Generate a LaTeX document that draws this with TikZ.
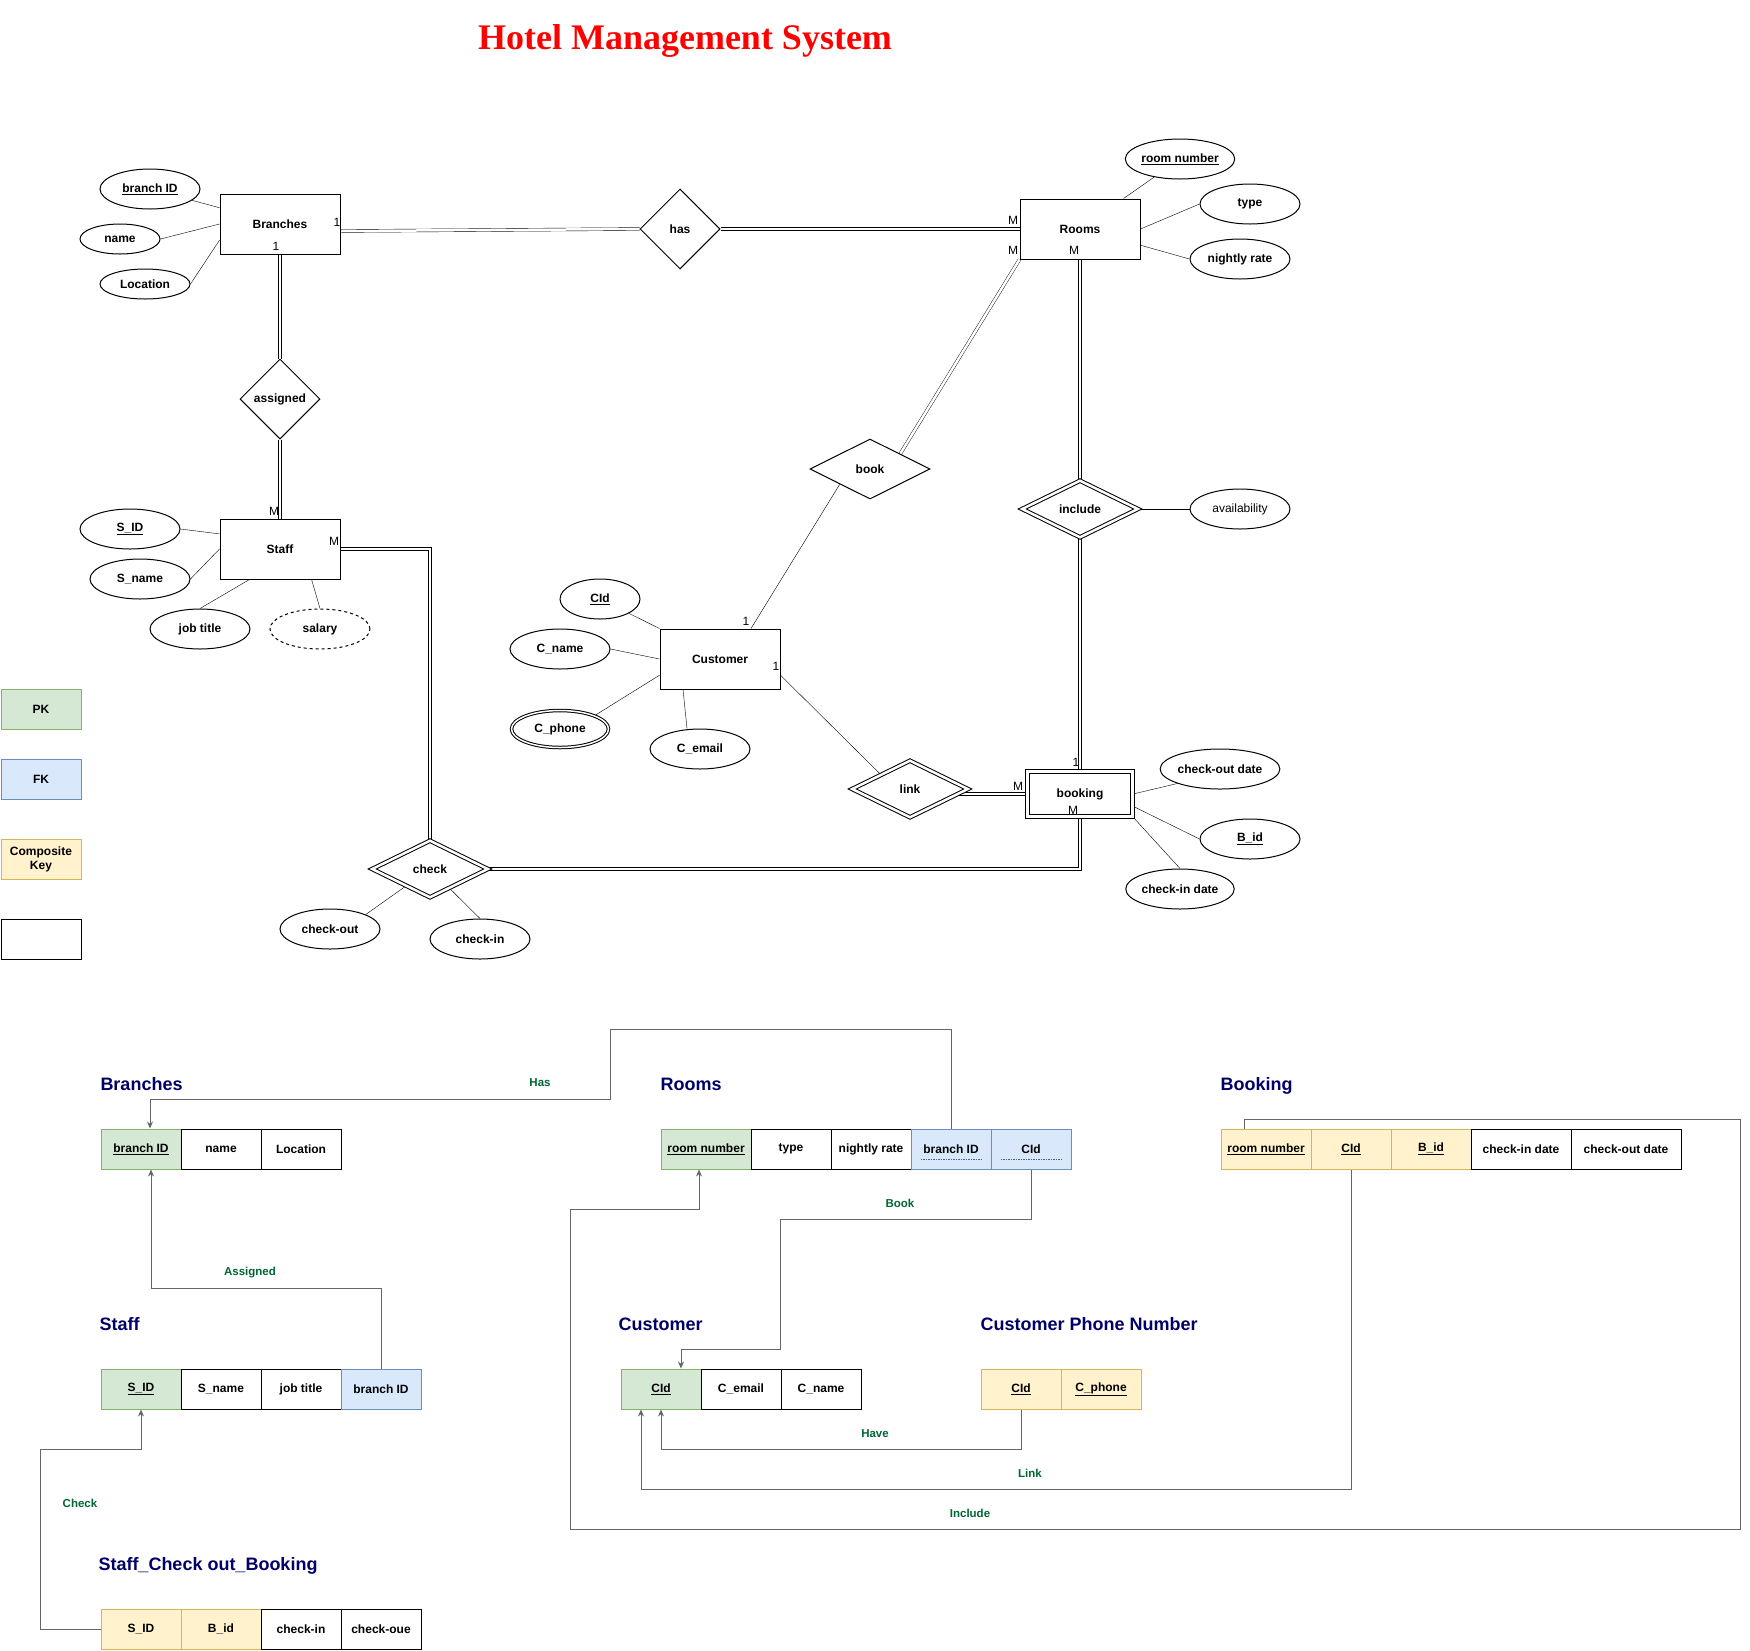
\documentclass[tikz,border=0pt]{standalone}
\usepackage{fontspec}
\setmainfont{Liberation Sans}
\newfontfamily\titlefont{Liberation Serif}
\usetikzlibrary{matrix,shapes.geometric,arrows.meta,calc,backgrounds}
\definecolor{pkfill}{HTML}{D5E8D4}
\definecolor{pkline}{HTML}{82B366}
\definecolor{fkfill}{HTML}{DAE8FC}
\definecolor{fkline}{HTML}{6C8EBF}
\definecolor{ckfill}{HTML}{FFF2CC}
\definecolor{ckline}{HTML}{D6B656}
\definecolor{tabtitle}{HTML}{000066}
\definecolor{rellabel}{HTML}{006633}
\definecolor{relline}{HTML}{666666}

\begin{document}
\begin{tikzpicture}[x=1pt, y=-1pt, line width=1pt,
    font=\fontsize{12}{14}\selectfont\bfseries,
    entity/.style={draw, rectangle, minimum width=120pt, minimum height=60pt, inner sep=0},
    weakentity/.style={entity, double, double distance=3pt, minimum width=105pt, minimum height=45pt},
    attr/.style={draw, ellipse, minimum width=100pt, minimum height=40pt, inner sep=0},
    multiattr/.style={attr, double, double distance=1.5pt, minimum width=97pt, minimum height=37pt},
    rel/.style={draw, diamond, minimum width=120pt, minimum height=60pt, inner sep=0},
    weakrel/.style={rel, double, double distance=2.5pt, minimum width=116pt, minimum height=57pt},
    dbl/.style={double, double distance=2.5pt},
    card/.style={font=\fontsize{12}{14}\selectfont\mdseries, inner sep=0},
    legend/.style={draw, minimum width=80pt, minimum height=40pt, inner sep=0, align=center},
    tabname/.style={anchor=base west, inner sep=0, text=tabtitle, font=\fontsize{18}{20}\selectfont\bfseries},
    tab/.style={matrix of nodes, anchor=west, inner sep=0pt, column sep=-\pgflinewidth,
      nodes={draw, minimum width=80pt, minimum height=40pt, inner sep=0, anchor=center}},
    pk/.style={fill=pkfill, draw=pkline},
    fk/.style={fill=fkfill, draw=fkline},
    ck/.style={fill=ckfill, draw=ckline},
    fkarrow/.style={draw=relline, -{Stealth[length=7pt,width=6pt]}},
    rellab/.style={text=rellabel, inner sep=0, font=\fontsize{11.5}{13}\selectfont\bfseries}]
  \useasboundingbox (0,0) rectangle (1750,1650);

  \node[anchor=base, text=red, font=\titlefont\fontsize{36}{40}\selectfont\bfseries] (title) at (685,49) {Hotel Management System};

  % ER diagram
  \node[entity] (branches) at (280,224) {Branches};
  \node[attr] (branchid) at (150,189) {\underline{branch ID}};
  \node[attr, minimum width=80pt, minimum height=30pt] (bname) at (120,239) {name};
  \node[attr, minimum width=90pt, minimum height=30pt] (blocation) at (145,284) {Location};
  \node[rel, minimum width=80pt, minimum height=80pt] (has) at (680,229) {has};
  \node[entity] (rooms) at (1080,229) {Rooms};
  \node[attr] (roomno) at (1180,159) {\underline{room number}};
  \node[attr] (rtype) at (1250,204) {type};
  \node[attr] (rrate) at (1240,259) {nightly rate};
  \node[rel, minimum width=80pt, minimum height=80pt] (assigned) at (280,399) {assigned};
  \node[entity] (staff) at (280,549) {Staff};
  \node[attr] (sid) at (130,529) {\underline{S\_ID}};
  \node[attr] (sname) at (140,579) {S\_name};
  \node[attr] (sjob) at (200,629) {job title};
  \node[attr, dashed] (ssalary) at (320,629) {salary};
  \node[rel] (book) at (870,469) {book};
  \node[weakrel] (include) at (1080,509) {include};
  \node[attr, font=\fontsize{12}{14}\selectfont\mdseries] (avail) at (1240,509) {availability};
  \node[entity] (customer) at (720,659) {Customer};
  \node[attr, minimum width=80pt] (cid) at (600,599) {\underline{CId}};
  \node[attr] (cname) at (560,649) {C\_name};
  \node[multiattr] (cphone) at (560,729) {C\_phone};
  \node[attr] (cemail) at (700,749) {C\_email};
  \node[weakrel] (link) at (910,789) {link};
  \node[weakentity] (booking) at (1080,794) {booking};
  \node[attr] (codate) at (1220,769) {check-out date};
  \node[attr] (bid) at (1250,839) {\underline{B\_id}};
  \node[attr] (cidate) at (1180,889) {check-in date};
  \node[weakrel] (check) at (430,869) {check};
  \node[attr] (chkout) at (330,929) {check-out};
  \node[attr] (chkin) at (480,939) {check-in};

  \node[card] (c1) at (337,222) {1};
  \node[card] (c2) at (276,246) {1};
  \node[card] (c3) at (1013,220) {M};
  \node[card] (c4) at (1013,250) {M};
  \node[card] (c5) at (1074,250) {M};
  \node[card] (c6) at (274,511) {M};
  \node[card] (c7) at (334,541) {M};
  \node[card] (c8) at (746,621) {1};
  \node[card] (c9) at (776,666) {1};
  \node[card] (c10) at (1076,762) {1};
  \node[card] (c11) at (1018,786) {M};
  \node[card] (c12) at (1073,810) {M};

  \begin{scope}[on background layer]
    \draw (branchid) -- (branches);
    \draw (bname.east) -- (branches.west);
    \draw (blocation.east) -- (branches.195);
    \draw (roomno) -- (rooms);
    \draw (rtype.west) -- (rooms.east);
    \draw (rrate.west) -- (rooms.-15);
    \draw (sid.east) -- (staff.166);
    \draw (sname.east) -- (staff.west);
    \draw (sjob.north) -- (staff.225);
    \draw (ssalary.north) -- (staff.-44);
    \draw (cid) -- (customer.north west);
    \draw (cname.east) -- (customer.west);
    \draw (cphone.north east) -- (customer.195);
    \draw ([xshift=-13pt]cemail.north) -- ([xshift=-37pt]customer.south);
    \draw (booking.east) -- (codate.south west);
    \draw (booking.-13) -- (bid.west);
    \draw (booking.south east) -- (cidate.north);
    \draw (include.east) -- (avail.west);
    \draw (chkout.north east) -- (check);
    \draw (chkin.north) -- (check);
    \draw (book.south west) -- ([xshift=31pt]customer.north);
    \draw (customer.-15) -- (link.north west);
    \draw[dbl] ([yshift=-7pt]branches.east) -- (has.west);
    \draw[dbl] (has.east) -- (rooms.west);
    \draw[dbl] (branches.south) -- (assigned.north);
    \draw[dbl] (assigned.south) -- (staff.north);
    \draw[dbl] (staff.east) -| (check.north);
    \draw[dbl] (rooms.south west) -- (book.north east);
    \draw[dbl] (rooms.south) -- (include.north);
    \draw[dbl] (include.south) -- (booking.north);
    \draw[dbl] ([xshift=-10pt,yshift=-5pt]link.east) -- (booking.west);
    \draw[dbl] (booking.south) |- (check.east);
  \end{scope}

  % legend
  \node[legend, pk] (legpk) at (41,709) {PK};
  \node[legend, fk] (legfk) at (41,779) {FK};
  \node[legend, ck] (legck) at (41,859) {Composite\\Key};
  \node[legend] (legnone) at (41,939) {};

  % relational schema
  \node[tabname] (nbranches) at (100,1090) {Branches};
  \node[tabname] (nrooms) at (660,1090) {Rooms};
  \node[tabname] (nbooking) at (1220,1090) {Booking};
  \node[tabname] (nstaff) at (99,1330) {Staff};
  \node[tabname] (ncustomer) at (618,1330) {Customer};
  \node[tabname] (nphone) at (980,1330) {Customer Phone Number};
  \node[tabname] (ncheck) at (98,1570) {Staff\_Check out\_Booking};

  \matrix (tbranches) [tab] at (100,1149) {
    |[pk]| \underline{branch ID} & name & Location \\
  };
  \matrix (trooms) [tab] at (660,1149) {
    |[pk, minimum width=90pt]| \underline{room number} & type & nightly rate & |[fk]| branch ID & |[fk]| CId \\
  };
  \matrix (tbooking) [tab] at (1220,1149) {
    |[ck, minimum width=90pt]| \underline{room number} & |[ck]| \underline{CId} & |[ck]| \underline{B\_id}
      & |[minimum width=100pt]| check-in date & |[minimum width=110pt]| check-out date \\
  };
  \matrix (tstaff) [tab] at (100,1389) {
    |[pk]| \underline{S\_ID} & S\_name & job title & |[fk]| branch ID \\
  };
  \matrix (tcustomer) [tab] at (620,1389) {
    |[pk]| \underline{CId} & C\_email & C\_name \\
  };
  \matrix (tphone) [tab] at (980,1389) {
    |[ck]| \underline{CId} & |[ck]| \underline{C\_phone} \\
  };
  \matrix (tcheck) [tab] at (100,1629) {
    |[ck]| S\_ID & |[ck]| B\_id & check-in & check-oue \\
  };

  \foreach \c in {4,5}
    \draw[draw=fkline!70!black, line width=0.7pt, dash pattern=on 1.5pt off 1pt]
      ([xshift=10pt,yshift=10pt]trooms-1-\c.south west) -- ([xshift=-10pt,yshift=10pt]trooms-1-\c.south east);

  \draw[fkarrow] (trooms-1-4.north) |- (610,1029) -- (610,1099) -| ([xshift=9pt]tbranches-1-1.north);
  \draw[fkarrow] (tstaff-1-4.north) -- ++(0,-80) -| ([xshift=10pt]tbranches-1-1.south);
  \draw[fkarrow] (tcheck-1-1.west) -| (40,1449) -| (tstaff-1-1.south);
  \draw[fkarrow] (trooms-1-5.south) |- (780,1219) -- (780,1349) -| ([xshift=20pt]tcustomer-1-1.north);
  \draw[fkarrow] ([xshift=-22pt]tbooking-1-1.north) |- (1740,1119) |- (570,1529) -- (570,1209) -| ([xshift=-7pt]trooms-1-1.south);
  \draw[fkarrow] (tphone-1-1.south) -- ++(0,40) -| (tcustomer-1-1.south);
  \draw[fkarrow] (tbooking-1-2.south) -- ++(0,320) -| ([xshift=-20pt]tcustomer-1-1.south);

  \node[rellab] (lhas) at (540,1083) {Has};
  \node[rellab] (lassigned) at (250,1273) {Assigned};
  \node[rellab] (lcheck) at (80,1503) {Check};
  \node[rellab] (lbook) at (900,1203) {Book};
  \node[rellab] (lhave) at (875,1434) {Have};
  \node[rellab] (llink) at (1030,1473) {Link};
  \node[rellab] (linclude) at (970,1513) {Include};
\end{tikzpicture}
\end{document}
